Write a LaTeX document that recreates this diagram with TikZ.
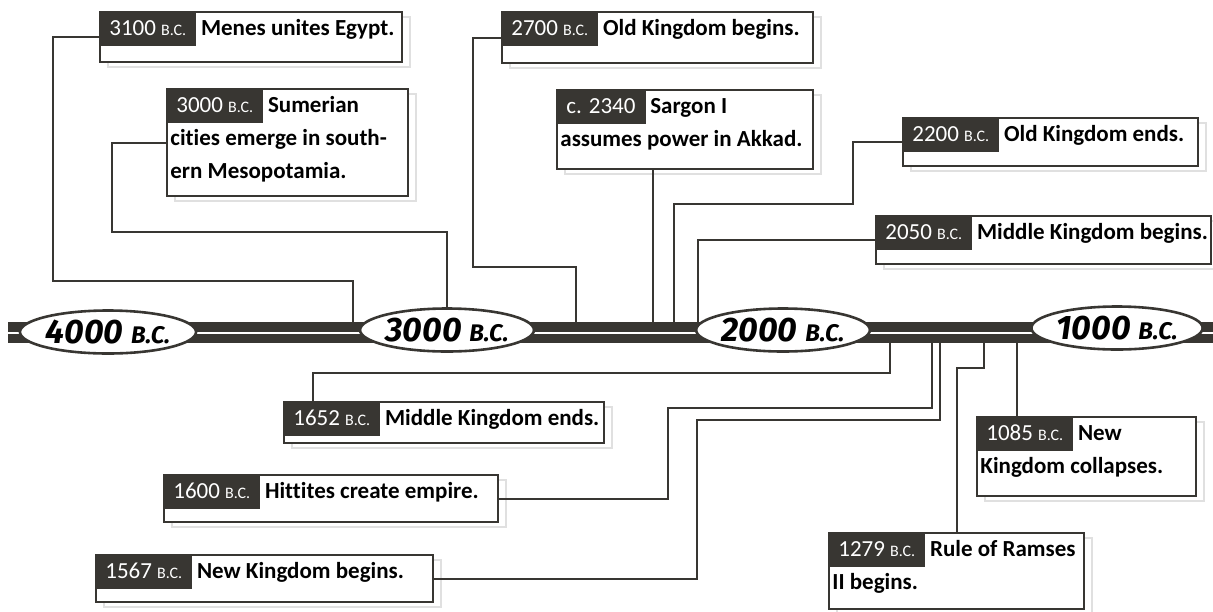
\documentclass[tikz,border=0pt]{standalone}
\usepackage{fontspec}
\setmainfont{Carlito}[Ligatures=NoCommon]
\newfontfamily\erafont{Fira Sans}
\usetikzlibrary{shapes.geometric,calc,shadows}
\definecolor{ink}{HTML}{383632}
\newcommand{\bcsc}{{\fontsize{8}{8}\selectfont B.C.}}
\newcommand{\erabc}{{\fontsize{12}{12}\selectfont B.C.}}

\begin{document}
\begin{tikzpicture}[x=0.5pt, y=-0.5pt,
	evbox/.style={draw=ink, line width=1.2pt, fill=white, anchor=north west, inner sep=0pt,
		drop shadow={shadow xshift=4pt, shadow yshift=-2.5pt, fill=none, draw=black!12, line width=0.8pt, opacity=1}},
	datelab/.style={fill=ink, text=white, anchor=north west, inner xsep=5pt, inner ysep=2pt,
		text height=10pt, text depth=3.5pt, font=\fontsize{11.5}{12}\selectfont},
	evtext/.style={anchor=base west, inner xsep=2pt, font=\fontsize{11.5}{12}\selectfont\bfseries},
	link/.style={draw=ink, line width=1pt},
	era/.style={ellipse, draw=ink, line width=1.3pt, fill=white, minimum width=70pt, minimum height=21.5pt,
		inner sep=0pt, font=\erafont\bfseries\itshape\fontsize{17}{17}\selectfont}]
		
		\useasboundingbox (0,0) rectangle (1213,611);
		
		% the time line
		\fill[ink] (8,322) rectangle (1213,331.5);
		\fill[ink] (8,333.5) rectangle (1213,343);
		
		\coordinate (m3100) at (353,322);
		\coordinate (m2700) at (576,322);
		\coordinate (m2340) at (653,322);
		\coordinate (m2200) at (674,322);
		\coordinate (m2050) at (698,322);
		\coordinate (m1652) at (890,343);
		\coordinate (m1600) at (932,343);
		\coordinate (m1567) at (940,343);
		\coordinate (m1279) at (984,343);
		\coordinate (m1085) at (1017,343);
		
		\node[era] (y4000) at (108,332) {4000 \erabc};
		\node[era] (y3000) at (447,330) {3000 \erabc};
		\node[era] (y2000) at (783,330) {2000 \erabc};
		\node[era] (y1000) at (1117,328) {1000 \erabc};
		
		% events above
		\node[evbox, minimum width=151pt, minimum height=25pt] (e3100) at (99,11) {};
		\node[datelab] (d3100) at (e3100.north west) {3100 \bcsc};
		\node[evtext] (t3100) at (d3100.base east) {Menes unites Egypt.};
		
		\node[evbox, minimum width=120.5pt, minimum height=53.5pt] (e3000) at (166,88) {};
		\node[datelab] (d3000) at (e3000.north west) {3000 \bcsc};
		\node[evtext] (t3000a) at (d3000.base east) {Sumerian};
		\node[evtext] (t3000b) at ($(d3000.base west)+(0,33)$) {cities emerge in south-};
		\node[evtext] (t3000c) at ($(d3000.base west)+(0,66)$) {ern Mesopotamia.};
		
		\node[evbox, minimum width=155.5pt, minimum height=25.5pt] (e2700) at (501,11) {};
		\node[datelab] (d2700) at (e2700.north west) {2700 \bcsc};
		\node[evtext] (t2700) at (d2700.base east) {Old Kingdom begins.};
		
		\node[evbox, minimum width=128pt, minimum height=39.5pt] (e2340) at (556,89) {};
		\node[datelab] (d2340) at (e2340.north west) {c. 2340};
		\node[evtext] (t2340a) at (d2340.base east) {Sargon I};
		\node[evtext] (t2340b) at ($(d2340.base west)+(0,33)$) {assumes power in Akkad.};
		
		\node[evbox, minimum width=147.5pt, minimum height=24pt] (e2200) at (902,117) {};
		\node[datelab] (d2200) at (e2200.north west) {2200 \bcsc};
		\node[evtext] (t2200) at (d2200.base east) {Old Kingdom ends.};
		
		\node[evbox, minimum width=167.5pt, minimum height=24pt] (e2050) at (875,215) {};
		\node[datelab] (d2050) at (e2050.north west) {2050 \bcsc};
		\node[evtext] (t2050) at (d2050.base east) {Middle Kingdom begins.};
		
		% events below
		\node[evbox, minimum width=160pt, minimum height=20.5pt] (e1652) at (283,401) {};
		\node[datelab] (d1652) at (e1652.north west) {1652 \bcsc};
		\node[evtext] (t1652) at (d1652.base east) {Middle Kingdom ends.};
		
		\node[evbox, minimum width=167pt, minimum height=23.5pt] (e1600) at (163,474) {};
		\node[datelab] (d1600) at (e1600.north west) {1600 \bcsc};
		\node[evtext] (t1600) at (d1600.base east) {Hittites create empire.};
		
		\node[evbox, minimum width=168.5pt, minimum height=23.5pt] (e1567) at (95,554) {};
		\node[datelab] (d1567) at (e1567.north west) {1567 \bcsc};
		\node[evtext] (t1567) at (d1567.base east) {New Kingdom begins.};
		
		\node[evbox, minimum width=109.5pt, minimum height=39.5pt] (e1085) at (976,416) {};
		\node[datelab] (d1085) at (e1085.north west) {1085 \bcsc};
		\node[evtext] (t1085a) at (d1085.base east) {New};
		\node[evtext] (t1085b) at ($(d1085.base west)+(0,33)$) {Kingdom collapses.};
		
		\node[evbox, minimum width=127.5pt, minimum height=38pt] (e1279) at (828,532) {};
		\node[datelab] (d1279) at (e1279.north west) {1279 \bcsc};
		\node[evtext] (t1279a) at (d1279.base east) {Rule of Ramses};
		\node[evtext] (t1279b) at ($(d1279.base west)+(0,33)$) {II begins.};
		
		% connectors
		\draw[link] (e3100.west) -| (53,281) -| (m3100);
		\draw[link] (e3000.west) -| (112,232) -| (y3000.north);
		\draw[link] (e2700.west) -| (473,267) -| (m2700);
		\draw[link] (m2340 |- e2340.south) -- (m2340);
		\draw[link] (e2200.west) -| (853,204) -| (m2200);
		\draw[link] (e2050.west) -| (m2050);
		\draw[link] (m1652) |- (313,373) -- (313,0 |- e1652.north);
		\draw[link] (e1600.east) -| (668,408) -| (m1600);
		\draw[link] (e1567.east) -| (697,420) -| (m1567);
		\draw[link] (957,0 |- e1279.north) -- (957,368) -| (m1279);
		\draw[link] (m1085) -- (m1085 |- e1085.north);
		\end{tikzpicture}
\end{document}
